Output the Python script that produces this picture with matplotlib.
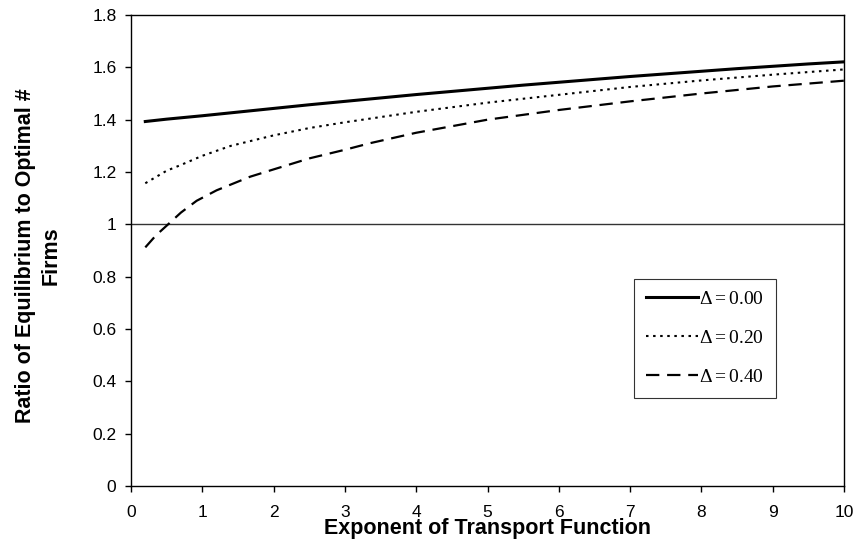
import matplotlib.pyplot as plt
import numpy as np

# exponent of transport function
x_solid = [0.2, 0.5, 1, 1.5, 2, 2.5, 3, 3.5, 4, 4.5, 5, 5.5, 6, 6.5, 7, 7.5, 8, 8.5, 9, 9.5, 10]
y_solid = [1.393, 1.402, 1.415, 1.429, 1.443, 1.457, 1.470, 1.483, 1.496, 1.508, 1.520, 1.532,
           1.543, 1.554, 1.565, 1.575, 1.585, 1.595, 1.604, 1.613, 1.621]

x_dot = [0.2, 0.5, 0.7, 1, 1.4, 2, 2.5, 3, 3.5, 4, 5, 6, 7, 8, 9, 10]
y_dot = [1.157, 1.205, 1.227, 1.262, 1.300, 1.340, 1.368, 1.390, 1.410, 1.430, 1.465,
         1.495, 1.525, 1.550, 1.572, 1.592]

x_dash = [0.2, 0.35, 0.52, 0.7, 0.92, 1.2, 1.67, 2, 2.5, 3, 3.35, 4, 5, 6, 7, 8, 9, 10]
y_dash = [0.912, 0.958, 1.0, 1.045, 1.09, 1.13, 1.182, 1.21, 1.252, 1.285, 1.31, 1.35, 1.40,
          1.437, 1.47, 1.50, 1.527, 1.549]

labels = [r'$\Delta = 0.00$', r'$\Delta = 0.20$', r'$\Delta = 0.40$']

plt.rcParams['font.family'] = ['Liberation Sans', 'DejaVu Sans']
plt.rcParams['mathtext.fontset'] = 'custom'
plt.rcParams['mathtext.rm'] = 'Liberation Serif'
plt.rcParams['mathtext.it'] = 'Liberation Serif'

fig = plt.figure(figsize=(8.57, 5.46), dpi=100)
ax = fig.add_axes([0.1529, 0.1099, 0.8319, 0.8626])

ax.axhline(1, color='#333333', lw=1.0, zorder=1)
ax.plot(x_solid, y_solid, color='black', lw=2.2, ls='-', label=labels[0])
ax.plot(x_dot, y_dot, color='black', lw=1.5, ls=(0, (1.2, 2.2)), label=labels[1])
ax.plot(x_dash, y_dash, color='black', lw=1.6, ls=(0, (6, 3.5)), label=labels[2])

ax.set_xlim(0, 10)
ax.set_ylim(0, 1.8)
ax.set_xticks(np.arange(0, 11, 1))
yt = np.round(np.arange(0, 1.81, 0.2), 1)
ax.set_yticks(yt)
ax.set_yticklabels(['%g' % v for v in yt])
ax.tick_params(axis='both', direction='out', length=4.5, width=1, labelsize=12.5, top=False, right=False)
ax.tick_params(axis='y', pad=6)
ax.tick_params(axis='x', pad=9)

for s in ax.spines.values():
    s.set_linewidth(1.0)

ax.set_xlabel('Exponent of Transport Function', fontsize=15.5, fontweight='bold', labelpad=-1)
ax.set_ylabel('Ratio of Equilibrium to Optimal #\nFirms', fontsize=15.5, fontweight='bold',
              linespacing=1.3)
ax.yaxis.set_label_coords(-0.097, 0.49)

leg = ax.legend(loc='upper left', bbox_to_anchor=(0.7055, 0.4395), fontsize=14, frameon=True,
                fancybox=False, edgecolor='black', handlelength=2.7, handletextpad=0.05,
                labelspacing=1.1, borderpad=0.6, borderaxespad=0)
leg.get_frame().set_linewidth(0.8)

fig.savefig('out.png', dpi=100)
